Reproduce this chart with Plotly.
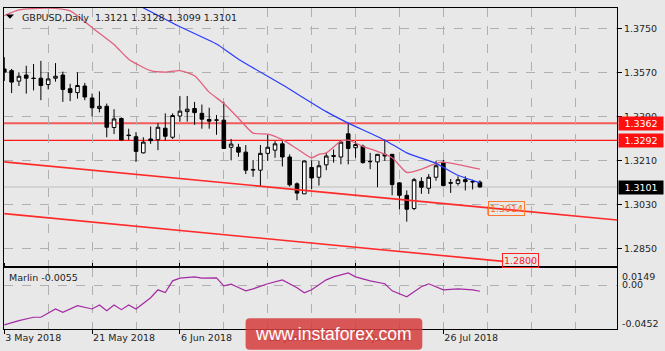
import plotly.graph_objects as go

# ---------------- data ----------------
bar_index = list(range(66))
opens = [1.3585,1.3578,1.3535,1.3560,1.3547,1.3547,1.3521,1.3547,1.3560,1.3504,
         1.3488,1.3515,1.3466,1.3423,1.3432,1.3345,1.3382,1.3314,1.3307,1.3241,
         1.3298,1.3295,1.3342,1.3305,1.3392,1.3410,1.3423,1.3403,1.3378,1.3376,
         1.3375,1.3264,1.3264,1.3244,1.3173,1.3170,1.3239,1.3252,1.3278,1.3224,
         1.3114,1.3073,1.3181,1.3141,1.3192,1.3230,1.3224,1.3319,1.3262,1.3268,
         1.3206,1.3204,1.3235,1.3235,1.3118,1.3067,1.3013,1.3124,1.3096,1.3141,
         1.3201,1.3119,1.3116,1.3131,1.3124,1.3121]
highs = [1.3633,1.3585,1.3571,1.3598,1.3605,1.3618,1.3571,1.3609,1.3574,1.3524,
         1.3571,1.3528,1.3484,1.3493,1.3443,1.3420,1.3386,1.3340,1.3326,1.3305,
         1.3349,1.3363,1.3403,1.3403,1.3474,1.3474,1.3450,1.3439,1.3426,1.3396,
         1.3450,1.3298,1.3278,1.3273,1.3212,1.3273,1.3315,1.3289,1.3289,1.3235,
         1.3120,1.3210,1.3210,1.3208,1.3241,1.3255,1.3293,1.3363,1.3289,1.3275,
         1.3241,1.3235,1.3295,1.3235,1.3120,1.3087,1.3138,1.3141,1.3154,1.3208,
         1.3212,1.3134,1.3145,1.3145,1.3131,1.3128]
lows = [1.3536,1.3486,1.3515,1.3484,1.3497,1.3457,1.3501,1.3533,1.3450,1.3453,
        1.3463,1.3457,1.3390,1.3407,1.3305,1.3318,1.3293,1.3294,1.3204,1.3239,
        1.3278,1.3252,1.3291,1.3298,1.3369,1.3369,1.3356,1.3340,1.3340,1.3315,
        1.3259,1.3210,1.3225,1.3154,1.3143,1.3103,1.3208,1.3221,1.3185,1.3103,
        1.3047,1.3073,1.3093,1.3107,1.3170,1.3201,1.3194,1.3194,1.3221,1.3197,
        1.3174,1.3100,1.3208,1.3067,1.3010,1.2959,1.3006,1.3073,1.3073,1.3127,
        1.3104,1.3077,1.3107,1.3087,1.3091,1.3099]
closes = [1.3572,1.3531,1.3555,1.3547,1.3546,1.3517,1.3544,1.3555,1.3501,1.3488,
          1.3517,1.3470,1.3426,1.3432,1.3346,1.3380,1.3294,1.3312,1.3247,1.3285,
          1.3291,1.3346,1.3309,1.3394,1.3412,1.3420,1.3406,1.3379,1.3371,1.3375,
          1.3259,1.3277,1.3244,1.3170,1.3171,1.3239,1.3264,1.3278,1.3224,1.3110,
          1.3076,1.3208,1.3138,1.3188,1.3228,1.3227,1.3285,1.3259,1.3275,1.3201,
          1.3205,1.3235,1.3228,1.3111,1.3067,1.3010,1.3131,1.3100,1.3141,1.3188,
          1.3107,1.3117,1.3131,1.3123,1.3122,1.3101]

pink_ma_x = [0, 2, 6, 9, 12, 15, 17, 20, 22, 24, 26, 28, 30, 32, 34, 36, 38, 40, 42, 43,
             44, 46, 47, 49, 53, 55, 57, 59, 60, 65]
pink_ma_y = [1.3803, 1.3827, 1.3834, 1.3823, 1.3754, 1.3685, 1.3625, 1.3578, 1.3572, 1.3578,
             1.3557, 1.3490, 1.3443, 1.3383, 1.3322, 1.3318, 1.3295, 1.3258, 1.3221, 1.3235,
             1.3241, 1.3289, 1.3293, 1.3268, 1.3221, 1.3161, 1.3174, 1.3198, 1.3203, 1.3174]

blue_ma_x = [18, 24, 29, 32, 38, 44, 47, 52, 55, 59, 62, 65]
blue_ma_y = [1.3851, 1.3758, 1.3687, 1.3625, 1.3520, 1.3410, 1.3363, 1.3293, 1.3241, 1.3198, 1.3149, 1.3118]

marlin_x = [0, 2, 4, 5, 7, 8, 10, 12, 13, 14, 15, 16, 17, 18, 20, 21, 22, 23, 24, 26, 27,
            29, 30, 31, 32, 33, 34, 36, 38, 40, 41, 42, 44, 45, 47, 48, 50, 52, 53, 55, 56,
            57, 58, 60, 62, 64, 65]
marlin_y = [-0.0355, -0.0317, -0.0287, -0.0287, -0.0213, -0.0243, -0.0184, -0.0213, -0.0177,
            -0.0228, -0.0177, -0.0219, -0.0177, -0.0213, -0.0113, -0.0042, -0.0066, 0.0038,
            0.0062, 0.0074, 0.0062, 0.0065, -0.0006, 0.0009, -0.0021, -0.0051, -0.0033,
            0.0012, 0.0047, -0.0024, -0.0068, -0.0042, 0.0047, 0.0074, 0.0109, 0.0074, 0.0038,
            0.0012, -0.0051, -0.0104, -0.0059, -0.0015, 0.0012, -0.0042, -0.0033, -0.0042,
            -0.0055]

level_lines = [1.3362, 1.3292]
current_price = 1.3101
trend_upper_x = [0, 84]
trend_upper_y = [1.3204, 1.2965]
trend_lower_x = [0, 68.2]
trend_lower_y = [1.2992, 1.2796]

price_ticks = [1.3750, 1.3570, 1.3390, 1.3210, 1.3030, 1.2850]
date_tick_pos = [0, 12, 24, 36, 48, 60]
date_tick_text = ["3 May 2018", "21 May 2018", "6 Jun 2018", "22 Jun 2018", "10 Jul 2018", "26 Jul 2018"]
grid_minor_pos = [6, 18, 30, 42, 54, 66, 72, 78]

# ---------------- layout helpers (pixel -> paper) ----------------
W, H = 665, 351
L, R, T, B = 3, 48, 3, 22
PW, PH = W - L - R, H - T - B


def px(x):
    return (x - L) / PW


def py(y):
    return (H - B - y) / PH


BG = "#e8e8e8"
GRID = "#b0b0b0"
FONT = "DejaVu Sans"
TXT = "#1e1e1e"

fig = go.Figure()

fig.add_trace(go.Candlestick(
    x=bar_index, open=opens, high=highs, low=lows, close=closes,
    increasing=dict(line=dict(color="black", width=1), fillcolor="white"),
    decreasing=dict(line=dict(color="black", width=1), fillcolor="black"),
    whiskerwidth=0, showlegend=False, hoverinfo="skip", xaxis="x", yaxis="y"))

fig.add_trace(go.Scatter(x=pink_ma_x, y=pink_ma_y, mode="lines",
                         line=dict(color="#e2607c", width=1.3, shape="spline", smoothing=0.6),
                         showlegend=False, hoverinfo="skip", xaxis="x", yaxis="y"))
fig.add_trace(go.Scatter(x=blue_ma_x, y=blue_ma_y, mode="lines",
                         line=dict(color="#2a3cff", width=1.2, shape="spline", smoothing=0.5),
                         showlegend=False, hoverinfo="skip", xaxis="x", yaxis="y"))
fig.add_trace(go.Scatter(x=trend_upper_x, y=trend_upper_y, mode="lines",
                         line=dict(color="#ff2a2a", width=1.6),
                         showlegend=False, hoverinfo="skip", xaxis="x", yaxis="y"))
fig.add_trace(go.Scatter(x=trend_lower_x, y=trend_lower_y, mode="lines",
                         line=dict(color="#ff2a2a", width=1.6),
                         showlegend=False, hoverinfo="skip", xaxis="x", yaxis="y"))
fig.add_trace(go.Scatter(x=marlin_x, y=marlin_y, mode="lines",
                         line=dict(color="#a42aa4", width=1.2),
                         showlegend=False, hoverinfo="skip", xaxis="x", yaxis="y2"))

shapes = []
shapes.append(dict(type="line", xref="x domain", yref="y", x0=0, x1=1,
                   y0=level_lines[0], y1=level_lines[0], line=dict(color="#f25a5a", width=2), layer="below"))
shapes.append(dict(type="line", xref="x domain", yref="y", x0=0, x1=1,
                   y0=level_lines[1], y1=level_lines[1], line=dict(color="#ff1a1a", width=1.3), layer="below"))
shapes.append(dict(type="line", xref="x domain", yref="y", x0=0, x1=1,
                   y0=current_price, y1=current_price, line=dict(color="#cdcdcd", width=1.5), layer="below"))
shapes.append(dict(type="path", xref="paper", yref="paper",
                   path=f"M {px(5)} {py(9.5)} L {px(13)} {py(9.5)} L {px(9)} {py(14)} Z",
                   fillcolor="black", line=dict(width=0)))
x0, x1, y0, y1, r = 245, 422, 318, 350, 4
wm_path = (f"M {px(x0 + r)} {py(y0)} L {px(x1 - r)} {py(y0)} Q {px(x1)} {py(y0)} {px(x1)} {py(y0 + r)} "
           f"L {px(x1)} {py(y1 - r)} Q {px(x1)} {py(y1)} {px(x1 - r)} {py(y1)} "
           f"L {px(x0 + r)} {py(y1)} Q {px(x0)} {py(y1)} {px(x0)} {py(y1 - r)} "
           f"L {px(x0)} {py(y0 + r)} Q {px(x0)} {py(y0)} {px(x0 + r)} {py(y0)} Z")
shapes.append(dict(type="path", xref="paper", yref="paper", path=wm_path,
                   fillcolor="rgba(214,62,62,0.86)", line=dict(width=0), layer="above"))

annotations = []
annotations.append(dict(xref="paper", yref="paper", x=px(19), y=py(12.5), xanchor="left", yanchor="middle",
                        text="GBPUSD,Daily  1.3121 1.3128 1.3099 1.3101", showarrow=False,
                        font=dict(family=FONT, size=9.5, color=TXT)))
for val, bg in [(level_lines[0], "#ff1010"), (level_lines[1], "#ff1010"), (current_price, "#000000")]:
    annotations.append(dict(xref="paper", yref="y", x=px(618), y=val, xanchor="left", yanchor="middle",
                            text=f"{val:.4f}", showarrow=False, bgcolor=bg, width=42, height=11,
                            borderpad=1, align="center", font=dict(family=FONT, size=9.5, color="white")))
annotations.append(dict(xref="x", yref="y", x=68.6, y=1.3014, xanchor="center", yanchor="middle",
                        text="1.3014", showarrow=False, bordercolor="#ff7a30", borderwidth=1, borderpad=1,
                        width=33, height=11, font=dict(family=FONT, size=9.5, color="#ff6a20")))
annotations.append(dict(xref="x", yref="y", x=70.5, y=1.2800, xanchor="center", yanchor="middle",
                        text="1.2800", showarrow=False, bordercolor="#ff2020", borderwidth=1, borderpad=1,
                        width=33, height=11, font=dict(family=FONT, size=9.5, color="#ff2020")))
annotations.append(dict(xref="paper", yref="paper", x=px(6), y=py(277), xanchor="left", yanchor="middle",
                        text="Marlin -0.0055", showarrow=False, font=dict(family=FONT, size=9.5, color=TXT)))
for txt, ypix in [("0.0149", 276), ("0.00", 284), ("-0.0452", 323)]:
    annotations.append(dict(xref="paper", yref="paper", x=px(620), y=py(ypix), xanchor="left",
                            yanchor="middle", text=txt, showarrow=False,
                            font=dict(family=FONT, size=9.5, color=TXT)))
annotations.append(dict(xref="paper", yref="paper", x=px(333), y=py(334), xanchor="center", yanchor="middle",
                        text="www.instaforex.com", showarrow=False,
                        font=dict(family="Liberation Sans", size=17.5, color="white")))

main_bottom = py(265.5)
ind_top = py(267.5)

fig.update_layout(
    width=W, height=H, margin=dict(l=L, r=R, t=T, b=B, pad=0),
    paper_bgcolor=BG, plot_bgcolor=BG,
    showlegend=False, hovermode=False,
    font=dict(family=FONT, size=9.5, color=TXT),
    xaxis=dict(range=[-0.04, 83.73], anchor="y2", tickmode="array", tickvals=date_tick_pos,
               ticktext=date_tick_text, ticks="outside", ticklen=4, tickcolor="black",
               ticklabelposition="outside right", showgrid=True, gridcolor=GRID, griddash="dash",
               gridwidth=1, showline=True, linecolor="black", linewidth=1, mirror="all",
               zeroline=False, rangeslider=dict(visible=False),
               minor=dict(tickmode="array", tickvals=grid_minor_pos, showgrid=True, gridcolor=GRID,
                          griddash="dash", gridwidth=1, ticks=""),
               tickfont=dict(family=FONT, size=9.5, color=TXT)),
    yaxis=dict(domain=[main_bottom, 1], range=[1.27753, 1.38348], side="right", anchor="x",
               tickmode="array", tickvals=price_ticks, ticktext=[f"{v:.4f}" for v in price_ticks],
               ticks="outside", ticklen=4, tickcolor="black", showgrid=True, gridcolor=GRID,
               griddash="dash", showline=True, linecolor="black", linewidth=1, mirror=True,
               zeroline=False, tickfont=dict(family=FONT, size=9.5, color=TXT)),
    yaxis2=dict(domain=[0, ind_top], range=[-0.0392, 0.0149], side="right", anchor="x",
                tickmode="array", tickvals=[0], showticklabels=False, ticks="",
                showgrid=True, gridcolor=GRID, griddash="dash", showline=True, linecolor="black",
                linewidth=1, mirror=True, zeroline=False),
    shapes=shapes, annotations=annotations,
)

fig.write_html("out.html")
